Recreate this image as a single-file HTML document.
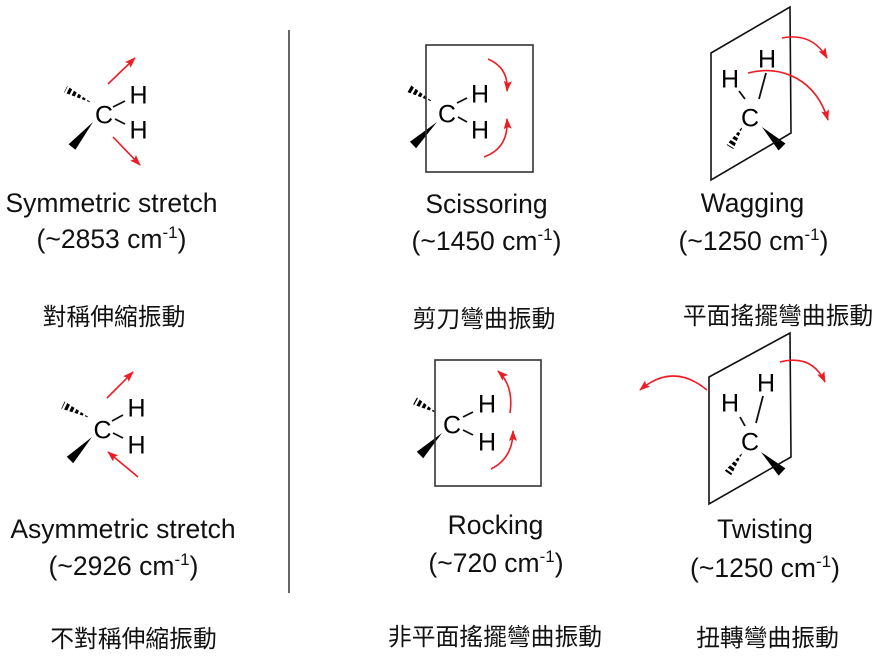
<!DOCTYPE html>
<html><head><meta charset="utf-8"><style>
html,body{margin:0;padding:0;background:#fff;}
svg{display:block;}
.en{font-family:"Liberation Sans",Arial,sans-serif;font-size:26.5px;fill:#111;}
.cj{font-family:"Liberation Sans","Noto Sans CJK TC","Noto Sans CJK SC",sans-serif;font-size:23.8px;fill:#111;}
.at{font-family:"Liberation Sans",Arial,sans-serif;font-size:25px;fill:#000;}
.w{fill:#000;}
.hw{stroke:#fff;stroke-width:11;stroke-dasharray:2.2 3.2;fill:none;}
.bd{stroke:#111;stroke-width:1.8;fill:none;}
.fr{stroke:#333;stroke-width:1.6;fill:none;}
.ar{stroke:#ee1c24;stroke-width:1.6;fill:none;marker-end:url(#ah);}
</style></head><body>
<svg width="882" height="661" viewBox="0 0 882 661" xmlns="http://www.w3.org/2000/svg">
<defs>
<marker id="ah" markerWidth="11" markerHeight="8" refX="10" refY="4" orient="auto" markerUnits="userSpaceOnUse">
<path d="M0,0 L11,4 L0,8 L2,4 z" fill="#ee1c24"/>
</marker>
</defs>

<!-- divider -->
<line x1="289" y1="30" x2="289" y2="593" stroke="#333" stroke-width="1.5"/>

<!-- wedges -->
<!-- symmetric -->
<polygon class="w" points="92,103 67.2,86.0 64.0,92.5"/>
<line class="hw" x1="92" y1="103" x2="62" y2="88"/>
<polygon class="w" points="93,122 75.4,149.8 68.6,144.2"/>
<!-- asymmetric -->
<polygon class="w" points="90,418 64.7,401.4 61.3,408.6"/>
<line class="hw" x1="90" y1="418" x2="60" y2="403.5"/>
<polygon class="w" points="92,437 73.2,463.2 66.8,456.8"/>
<!-- scissoring -->
<polygon class="w" points="433,102 410.0,84.5 406.0,91.5"/>
<line class="hw" x1="433" y1="102" x2="405" y2="86.3"/>
<polygon class="w" points="437,122 416.1,148.2 409.9,141.8"/>
<!-- rocking -->
<polygon class="w" points="437,413 416.9,397.5 413.1,404.5"/>
<line class="hw" x1="437" y1="413" x2="412" y2="399.4"/>
<polygon class="w" points="442,433 423.2,458.2 416.8,451.8"/>
<!-- wagging -->
<polygon class="w" points="743,126 733.4,149.1 726.6,144.9"/>
<line class="hw" x1="743" y1="126" x2="728.4" y2="149.6"/>
<polygon class="w" points="762,127 778.5,150.5 785.5,143.5"/>
<!-- twisting -->
<polygon class="w" points="743,452 731.2,475.3 724.8,470.7"/>
<line class="hw" x1="743" y1="452" x2="726.3" y2="475.4"/>
<polygon class="w" points="761,452 778.6,475.6 785.4,468.4"/>

<!-- frames -->
<rect class="fr" x="426" y="45" width="107" height="127"/>
<rect class="fr" x="435" y="360" width="106" height="126"/>
<polygon points="711,53 790,7 791,133 711,180" fill="none" stroke="#111" stroke-width="1.6"/>
<polygon points="709,377 790,333 791,457 709,504" fill="none" stroke="#111" stroke-width="1.6"/>

<!-- bonds -->
<line class="bd" x1="113" y1="107" x2="125" y2="101"/>
<line class="bd" x1="115" y1="119" x2="125" y2="124"/>
<line class="bd" x1="112" y1="421" x2="123" y2="415"/>
<line class="bd" x1="113" y1="433" x2="123" y2="438"/>
<line class="bd" x1="457" y1="103" x2="467" y2="98"/>
<line class="bd" x1="458" y1="117" x2="467" y2="122"/>
<line class="bd" x1="463" y1="417" x2="473" y2="412"/>
<line class="bd" x1="463" y1="430" x2="473" y2="435"/>
<line class="bd" x1="766" y1="73" x2="759" y2="99"/>
<line class="bd" x1="739" y1="91" x2="745" y2="99"/>
<line class="bd" x1="763" y1="396" x2="756" y2="423"/>
<line class="bd" x1="740" y1="417" x2="745" y2="426"/>

<!-- atoms -->
<g class="at" text-anchor="middle">
<text x="104" y="123.5">C</text>
<text x="138.5" y="103.5">H</text>
<text x="138.5" y="138.5">H</text>

<text x="102.5" y="438.5">C</text>
<text x="136.5" y="416.5">H</text>
<text x="136.5" y="453.5">H</text>

<text x="447" y="122.5">C</text>
<text x="480" y="102.5">H</text>
<text x="480" y="138.5">H</text>

<text x="452" y="433.5">C</text>
<text x="487" y="412.5">H</text>
<text x="487" y="450.5">H</text>

<text x="750" y="126.5">C</text>
<text x="767" y="67.5">H</text>
<text x="730" y="87.5">H</text>

<text x="750" y="450.5">C</text>
<text x="766" y="391.5">H</text>
<text x="730" y="411.5">H</text>
</g>

<!-- red arrows -->
<line class="ar" x1="108" y1="84" x2="135" y2="58"/>
<line class="ar" x1="113" y1="137" x2="140" y2="165"/>
<line class="ar" x1="107" y1="398" x2="133" y2="372"/>
<line class="ar" x1="138" y1="477" x2="108" y2="452"/>
<path class="ar" d="M488,59 Q509,68 507,91"/>
<path class="ar" d="M484,157 Q509,148 507,119"/>
<path class="ar" d="M510,413 Q514,386 498,371"/>
<path class="ar" d="M491,469 Q513,458 513,431"/>
<path class="ar" d="M782,38 Q812,32 827,58"/>
<path class="ar" d="M748,73 C782,64 816,80 828,120"/>
<path class="ar" d="M707,390 Q673,362 640,390"/>
<path class="ar" d="M780,362 Q812,354 825,382"/>

<!-- labels -->
<g class="en" text-anchor="middle">
<text x="111.5" y="212">Symmetric stretch</text>
<text x="111.5" y="248">(~2853 cm<tspan dy="-10" font-size="17">-1</tspan><tspan dy="10">)</tspan></text>
<text x="486.5" y="213">Scissoring</text>
<text x="486.5" y="250">(~1450 cm<tspan dy="-10" font-size="17">-1</tspan><tspan dy="10">)</tspan></text>
<text x="752.5" y="212">Wagging</text>
<text x="753.5" y="250">(~1250 cm<tspan dy="-10" font-size="17">-1</tspan><tspan dy="10">)</tspan></text>
<text x="123" y="538">Asymmetric stretch</text>
<text x="123.5" y="575">(~2926 cm<tspan dy="-10" font-size="17">-1</tspan><tspan dy="10">)</tspan></text>
<text x="495.5" y="534">Rocking</text>
<text x="496" y="572">(~720 cm<tspan dy="-10" font-size="17">-1</tspan><tspan dy="10">)</tspan></text>
<text x="765" y="538">Twisting</text>
<text x="765" y="577">(~1250 cm<tspan dy="-10" font-size="17">-1</tspan><tspan dy="10">)</tspan></text>
</g>
<g class="cj" text-anchor="middle">
<text x="114" y="325">對稱伸縮振動</text>
<text x="484" y="327">剪刀彎曲振動</text>
<text x="778" y="324">平面搖擺彎曲振動</text>
<text x="133.5" y="647">不對稱伸縮振動</text>
<text x="495" y="645">非平面搖擺彎曲振動</text>
<text x="767.5" y="646">扭轉彎曲振動</text>
</g>
</svg>
</body></html>
